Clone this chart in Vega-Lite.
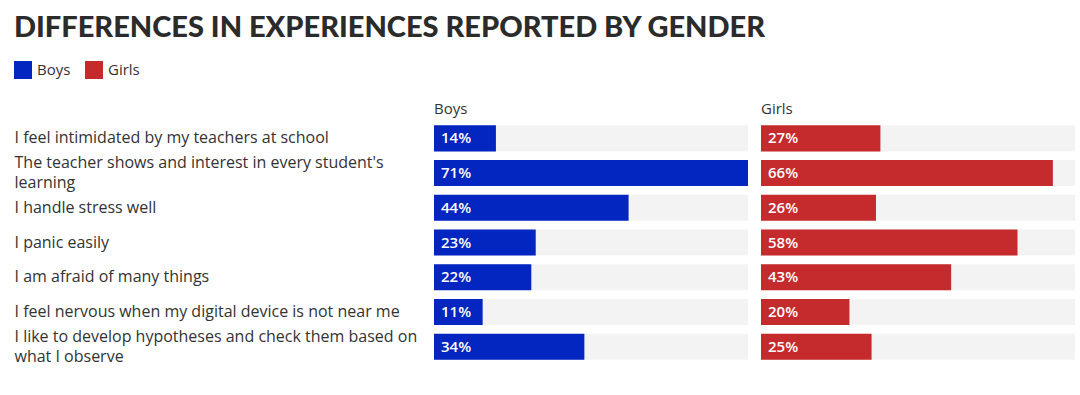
{
  "$schema": "https://vega.github.io/schema/vega-lite/v6.json",
  "padding": {"left": 14, "top": 14, "right": 5, "bottom": 5},
  "background": "white",
  "title": {"text": "DIFFERENCES IN EXPERIENCES REPORTED BY GENDER", "anchor": "start", "font": "Lato", "fontSize": 29, "fontWeight": 900, "color": "#2b2b2b", "offset": 18},
  "data": {"values": [
    {"question": "I feel intimidated by my teachers at school", "gender": "Boys", "value": 0.14},
    {"question": "I feel intimidated by my teachers at school", "gender": "Girls", "value": 0.27},
    {"question": "The teacher shows and interest in every student's\nlearning", "gender": "Boys", "value": 0.71},
    {"question": "The teacher shows and interest in every student's\nlearning", "gender": "Girls", "value": 0.66},
    {"question": "I handle stress well", "gender": "Boys", "value": 0.44},
    {"question": "I handle stress well", "gender": "Girls", "value": 0.26},
    {"question": "I panic easily", "gender": "Boys", "value": 0.23},
    {"question": "I panic easily", "gender": "Girls", "value": 0.58},
    {"question": "I am afraid of many things", "gender": "Boys", "value": 0.22},
    {"question": "I am afraid of many things", "gender": "Girls", "value": 0.43},
    {"question": "I feel nervous when my digital device is not near me", "gender": "Boys", "value": 0.11},
    {"question": "I feel nervous when my digital device is not near me", "gender": "Girls", "value": 0.20},
    {"question": "I like to develop hypotheses and check them based on\nwhat I observe", "gender": "Boys", "value": 0.34},
    {"question": "I like to develop hypotheses and check them based on\nwhat I observe", "gender": "Girls", "value": 0.25}
  ]},
  "facet": {"column": {"field": "gender", "type": "nominal", "sort": ["Boys", "Girls"], "header": {"title": null, "labelAnchor": "start", "labelAlign": "left", "labelFont": "Open Sans", "labelFontSize": 15, "labelColor": "#333333", "labelPadding": 4}}},
  "spacing": 13,
  "spec": {
    "width": 314,
    "height": 243,
    "encoding": {
      "y": {"field": "question", "type": "nominal", "sort": null, "scale": {"paddingInner": 0.25, "paddingOuter": 0.125},
        "axis": {"title": null, "labelAlign": "left", "labelPadding": 420, "labelFont": "Open Sans", "labelFontSize": 16, "labelColor": "#333333", "labelLimit": 0, "labelExpr": "split(datum.label, '\\n')", "labelLineHeight": 20, "labelOffset": {"condition": {"test": "indexof(datum.label, '\\n') >= 0", "value": -10}, "value": 0}, "ticks": false, "domain": false, "grid": false}}
    },
    "layer": [
      {"mark": {"type": "bar", "color": "#f3f3f3"}, "encoding": {"x": {"datum": 0.71, "type": "quantitative", "scale": {"domain": [0, 0.71], "nice": false, "zero": true}, "axis": null}}},
      {"mark": {"type": "bar"}, "encoding": {"x": {"field": "value", "type": "quantitative", "axis": null},
        "color": {"field": "gender", "type": "nominal", "scale": {"domain": ["Boys", "Girls"], "range": ["#0325c0", "#c52a2c"]},
          "legend": {"title": null, "orient": "none", "legendX": -420, "legendY": -60, "direction": "horizontal", "symbolType": "square", "symbolSize": 324, "symbolStrokeWidth": 0, "symbolOpacity": 1, "labelFont": "Open Sans", "labelFontSize": 15, "labelColor": "#333333", "columnPadding": 14, "labelOffset": 5}}}},
      {"mark": {"type": "text", "align": "left", "dx": 7, "color": "white", "font": "Open Sans", "fontSize": 15, "fontWeight": 600}, "encoding": {"x": {"datum": 0, "type": "quantitative"}, "text": {"field": "value", "type": "quantitative", "format": ".0%"}}}
    ]
  },
  "config": {"view": {"stroke": null}}
}
